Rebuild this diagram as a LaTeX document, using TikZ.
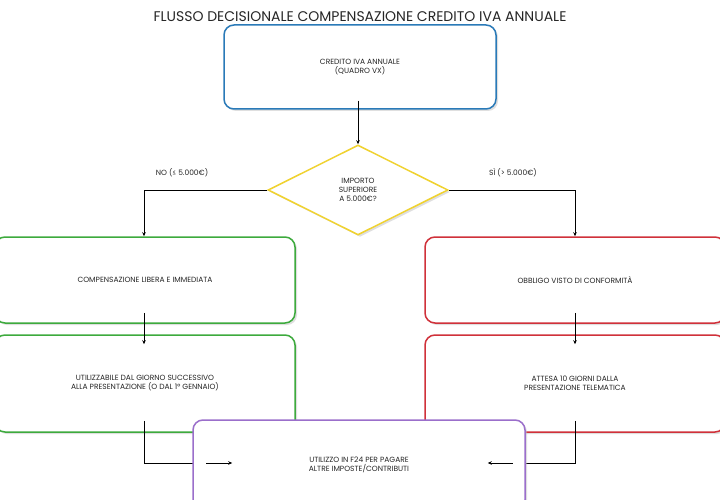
\documentclass[tikz,border=0pt]{standalone}
\usepackage{fontspec}
\setmainfont{Poppins}
\usetikzlibrary{shapes.geometric,arrows.meta,shadows}
\definecolor{cblue}{HTML}{2A7AB8}
\definecolor{cyel}{HTML}{F0D230}
\definecolor{cgreen}{HTML}{3DAA3D}
\definecolor{cred}{HTML}{D0313A}
\definecolor{cpur}{HTML}{9B6FCB}
\begin{document}
\begin{tikzpicture}[x=1pt,y=-1pt,
  box/.style={draw=#1,line width=1.5pt,rounded corners=10pt,fill=white,align=center,font=\fontsize{7.5}{9}\selectfont,text=black!85,drop shadow={shadow xshift=2pt,shadow yshift=-2pt,fill=black!25,opacity=0.5}},
  lab/.style={font=\fontsize{7.5}{9}\selectfont,text=black!85},
  con/.style={line width=0.8pt,black},
  arr/.style={con,-{Stealth[length=4pt,width=3.5pt]}}]
\useasboundingbox (0,0) rectangle (720,500);
\node[font=\fontsize{14}{16}\selectfont,text=black!85] (title) at (360,17) {FLUSSO DECISIONALE COMPENSAZIONE CREDITO IVA ANNUALE};
\node[box=cblue,minimum width=272,minimum height=84] (top) at (360,67) {CREDITO IVA ANNUALE\\(QUADRO VX)};
\node[diamond,draw=cyel,line width=1.5pt,fill=white,minimum width=180,minimum height=90,inner sep=0,align=center,font=\fontsize{7.5}{9}\selectfont,text=black!85,drop shadow={shadow xshift=2pt,shadow yshift=-2pt,fill=black!25,opacity=0.5}] (dia) at (358,190) {IMPORTO\\SUPERIORE\\A 5.000€?};
\node[box=cgreen,minimum width=300,minimum height=86] (g1) at (145,280) {COMPENSAZIONE LIBERA E IMMEDIATA};
\node[box=cgreen,minimum width=300,minimum height=97] (g2) at (145,383.5) {UTILIZZABILE DAL GIORNO SUCCESSIVO\\ALLA PRESENTAZIONE (O DAL 1° GENNAIO)};
\node[box=cred,minimum width=300,minimum height=86] (r1) at (575,280) {OBBLIGO VISTO DI CONFORMITÀ};
\node[box=cred,minimum width=300,minimum height=97] (r2) at (575,383.5) {ATTESA 10 GIORNI DALLA\\PRESENTAZIONE TELEMATICA};
\node[lab] (no) at (182,173) {NO (≤ 5.000€)};
\node[lab] (si) at (513,173) {SÌ (> 5.000€)};
\draw[arr] ([yshift=9]top.south -| dia.north) -- (dia.north);
\draw[arr] (dia.west) -| (g1.north -| 144,0);
\draw[arr] (dia.east) -| (r1.north);
\draw[arr] ([yshift=11]g1.south -| 144,0) -- ([yshift=-10]g2.north -| 144,0);
\draw[arr] ([yshift=11]r1.south) -- ([yshift=-10]r2.north);
\draw[con] ([yshift=12]g2.south -| 144,0) |- (193,463);
\draw[con] ([yshift=12]r2.south) |- (525,463);
\node[box=cpur,minimum width=332,minimum height=90] (f24) at (359,465) {UTILIZZO IN F24 PER PAGARE\\ALTRE IMPOSTE/CONTRIBUTI};
\draw[arr] ([xshift=14]f24.west |- 0,463) -- ([xshift=40]f24.west |- 0,463);
\draw[arr] ([xshift=-13]f24.east |- 0,463) -- ([xshift=-38]f24.east |- 0,463);
\end{tikzpicture}
\end{document}
